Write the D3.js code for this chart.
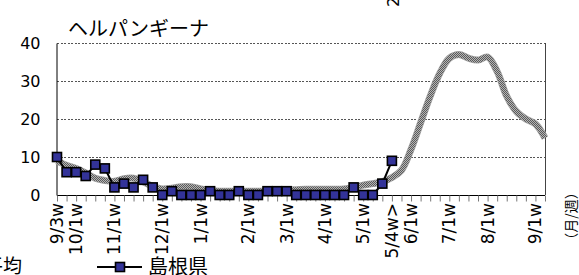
<!DOCTYPE html>
<html><head><meta charset="utf-8">
<script src="https://cdn.jsdelivr.net/npm/d3@7"></script>
<style>
html,body{margin:0;padding:0;background:#fff;overflow:hidden;}
svg{display:block;}
</style></head>
<body>
<script>
const categories = ["9/3w","9/4w","10/1w","10/2w","10/3w","10/4w","11/1w","11/2w","11/3w","11/4w","11/5w","12/1w","12/2w","12/3w","12/4w","1/1w","1/2w","1/3w","1/4w","1/5w","2/1w","2/2w","2/3w","2/4w","3/1w","3/2w","3/3w","3/4w","4/1w","4/2w","4/3w","4/4w","5/1w","5/2w","5/3w","5/4w","5/5w","6/1w","6/2w","6/3w","6/4w","7/1w","7/2w","7/3w","7/4w","8/1w","8/2w","8/3w","8/4w","8/5w","9/1w","9/2w"];
const averageValues = [9,7.8,7,5.8,4.4,3.8,3.6,4.3,4.4,3.5,2.3,1.6,1.8,2.2,2.2,1.6,1.2,1.0,1.0,1.0,1.0,1.0,1.1,1.2,1.3,1.4,1.5,1.5,1.5,1.5,1.6,2.0,2.6,3.0,3.5,4.6,6.5,12,19,26,32,36,37,36,35.5,36.3,32.5,26,22,20,18.7,15];
const shimaneValues = [10,6,6,5,8,7,2,3,2,4,2,0,1,0,0,0,1,0,0,1,0,0,1,1,1,0,0,0,0,0,0,2,0,0,3,9];
const tickLabelCats = ["9/3w","10/1w","11/1w","12/1w","1/1w","2/1w","3/1w","4/1w","5/1w","5/4w","6/1w","7/1w","8/1w","9/1w"];
const tickLabelTexts = ["9/3w","10/1w","11/1w","12/1w","1/1w","2/1w","3/1w","4/1w","5/1w","5/4w>","6/1w","7/1w","8/1w","9/1w"];
const yTicks = [0,10,20,30,40];
const title = "ヘルパンギーナ";
const seriesNames = ["過去5年平均","島根県"];
const unitLabel = "（月/週）";

const W = 579, H = 275;
const svg = d3.select("body").append("svg").attr("width", W).attr("height", H);

const defs = svg.append("defs");
const pat = defs.append("pattern").attr("id","chk").attr("patternUnits","userSpaceOnUse")
  .attr("width",2).attr("height",2);
pat.append("rect").attr("width",2).attr("height",2).attr("fill","#b4b4b4");
pat.append("rect").attr("width",1).attr("height",1).attr("fill","#5a5a5a");
pat.append("rect").attr("x",1).attr("y",1).attr("width",1).attr("height",1).attr("fill","#5a5a5a");

const x = d3.scalePoint().domain(categories).range([57, 545]).padding(0);
const y = d3.scaleLinear().domain([0, 40]).range([195, 43]);

const numFont = "DejaVu Sans, sans-serif";
const jpFont = "'Noto Sans CJK JP', sans-serif";

// gridlines
svg.append("g").selectAll("line").data(yTicks.filter(d => d > 0)).join("line")
  .attr("x1", 57).attr("x2", 545).attr("y1", d => y(d)).attr("y2", d => y(d))
  .attr("stroke", "#555").attr("stroke-width", 1).attr("stroke-dasharray", "2,1.5")
  .attr("shape-rendering","crispEdges");

// right border
svg.append("line").attr("x1",545.5).attr("x2",545.5).attr("y1",y(40)).attr("y2",y(0))
  .attr("stroke","#444").attr("stroke-width",1);

// y axis
const yAxis = d3.axisLeft(y).tickValues(yTicks).tickSize(0).tickPadding(16);
const gy = svg.append("g").attr("transform","translate(56.5,0)").call(yAxis);
gy.select(".domain").attr("stroke","#000");
gy.selectAll("text").attr("font-family", numFont).attr("font-size", 16).attr("fill","#000");

// x axis
const xAxis = d3.axisBottom(x).tickSize(6).tickFormat("");
const gx = svg.append("g").attr("transform","translate(0,195.5)").call(xAxis);
gx.select(".domain").attr("stroke","#000").attr("d", "M57,0H545");
gx.selectAll(".tick line").attr("stroke","#777");

// x labels
svg.append("g").selectAll("text").data(tickLabelCats).join("text")
  .attr("transform", d => `translate(${x(d)},203) rotate(-90)`)
  .attr("text-anchor","end").attr("dominant-baseline","central")
  .attr("font-family", numFont).attr("font-size", 17).attr("fill","#000")
  .text((d,i) => tickLabelTexts[i]);

// average line
const lineAvg = d3.line().x((d,i) => x(categories[i])).y(d => y(d)).curve(d3.curveCatmullRom.alpha(0.5));
svg.append("path").datum(averageValues).attr("d", lineAvg)
  .attr("fill","none").attr("stroke","#a0a0a0").attr("stroke-width",7).attr("stroke-linejoin","round");
svg.append("path").datum(averageValues).attr("d", lineAvg)
  .attr("fill","none").attr("stroke","url(#chk)").attr("stroke-width",5.5).attr("stroke-linejoin","round");

// shimane line
const lineS = d3.line().x((d,i) => x(categories[i])).y(d => y(d));
svg.append("path").datum(shimaneValues).attr("d", lineS)
  .attr("fill","none").attr("stroke","#000").attr("stroke-width",2);
svg.append("g").selectAll("rect").data(shimaneValues).join("rect")
  .attr("x",(d,i) => x(categories[i]) - 4.5).attr("y", d => y(d) - 4.5)
  .attr("width",9).attr("height",9).attr("fill","#333399").attr("stroke","#000").attr("stroke-width",1.6);

// title
svg.append("text").attr("x",68).attr("y",36).attr("font-family",jpFont).attr("font-size",20)
  .attr("fill","#000").text(title);

// legend
svg.append("text").attr("x",22).attr("y",273).attr("text-anchor","end").attr("font-family",jpFont)
  .attr("font-size",19).attr("fill","#000").text(seriesNames[0]);
svg.append("line").attr("x1",97).attr("x2",142).attr("y1",267).attr("y2",267).attr("stroke","#000").attr("stroke-width",2);
svg.append("rect").attr("x",115.5).attr("y",262.5).attr("width",9).attr("height",9)
  .attr("fill","#333399").attr("stroke","#000").attr("stroke-width",1.6);
svg.append("text").attr("x",148).attr("y",274).attr("font-family",jpFont)
  .attr("font-size",20).attr("fill","#000").text(seriesNames[1]);

// unit label
svg.append("text").attr("transform","translate(570,216) rotate(-90)").attr("text-anchor","middle")
  .attr("dominant-baseline","central").attr("font-family",jpFont).attr("font-size",14).attr("fill","#000").text(unitLabel);

// clipped texts at top
svg.append("text").attr("transform","translate(393,7) rotate(-90)").attr("text-anchor","start")
  .attr("dominant-baseline","central").attr("font-family",numFont).attr("font-size",16).attr("fill","#000").text("2");
svg.append("text").attr("transform","translate(570,4) rotate(-90)").attr("text-anchor","start")
  .attr("dominant-baseline","central").attr("font-family",jpFont).attr("font-size",14).attr("fill","#000").text("（");
</script>
</body></html>
